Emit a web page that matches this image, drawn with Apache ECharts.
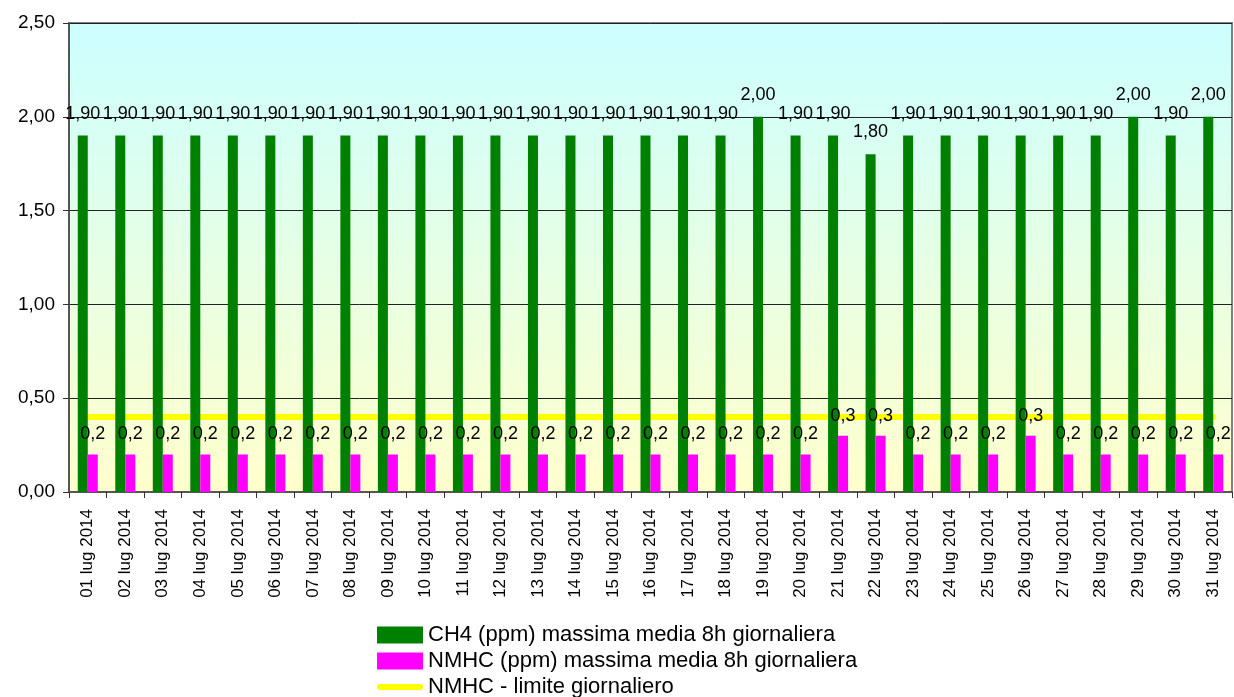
<!DOCTYPE html>
<html>
<head>
<meta charset="utf-8">
<script src="https://cdn.jsdelivr.net/npm/echarts@6/dist/echarts.min.js"></script>
<style>
  html, body { margin: 0; padding: 0; background: #fff; }
  #chart { width: 1234px; height: 697px; }
</style>
</head>
<body>
<div id="chart"></div>
<script>
// giorni di luglio 2014
const days = [
  '01 lug 2014', '02 lug 2014', '03 lug 2014', '04 lug 2014', '05 lug 2014',
  '06 lug 2014', '07 lug 2014', '08 lug 2014', '09 lug 2014', '10 lug 2014',
  '11 lug 2014', '12 lug 2014', '13 lug 2014', '14 lug 2014', '15 lug 2014',
  '16 lug 2014', '17 lug 2014', '18 lug 2014', '19 lug 2014', '20 lug 2014',
  '21 lug 2014', '22 lug 2014', '23 lug 2014', '24 lug 2014', '25 lug 2014',
  '26 lug 2014', '27 lug 2014', '28 lug 2014', '29 lug 2014', '30 lug 2014',
  '31 lug 2014'
]
const ch4 = [
  1.9, 1.9, 1.9, 1.9, 1.9, 1.9, 1.9, 1.9, 1.9, 1.9,
  1.9, 1.9, 1.9, 1.9, 1.9, 1.9, 1.9, 1.9, 2.0, 1.9,
  1.9, 1.8, 1.9, 1.9, 1.9, 1.9, 1.9, 1.9, 2.0, 1.9,
  2.0
]
const nmhc = [
  0.2, 0.2, 0.2, 0.2, 0.2, 0.2, 0.2, 0.2, 0.2, 0.2,
  0.2, 0.2, 0.2, 0.2, 0.2, 0.2, 0.2, 0.2, 0.2, 0.2,
  0.3, 0.3, 0.2, 0.2, 0.2, 0.3, 0.2, 0.2, 0.2, 0.2,
  0.2
]
const nmhcLimit = days.map(() => 0.4)

const names = [
  'CH4 (ppm) massima media 8h giornaliera',
  'NMHC (ppm) massima media 8h giornaliera',
  'NMHC - limite giornaliero'
]

const font = 'Arial, "Liberation Sans", sans-serif'
const chart = echarts.init(document.getElementById('chart'), null, { renderer: 'canvas' })

// una legenda per riga, così non va a capo
const legendRow = (item, top) => ({
  left: 377,
  top: top,
  padding: 0,
  itemWidth: 46,
  itemHeight: 17,
  textStyle: { fontSize: 22, lineHeight: 20, fontFamily: font, color: '#000' },
  data: [item]
})

const option = {
  animation: false,
  textStyle: { fontFamily: font, color: '#000' },
  grid: {
    left: 69,
    right: 2,
    top: 23,
    bottom: 205,
    show: true,
    borderColor: '#808080',
    borderWidth: 2,
    backgroundColor: new echarts.graphic.LinearGradient(0, 0, 0, 1, [
      { offset: 0, color: '#ccffff' },
      { offset: 1, color: '#ffffcc' }
    ])
  },
  legend: [
    legendRow({ name: names[0], icon: 'rect' }, 624),
    legendRow({ name: names[1], icon: 'rect' }, 650),
    legendRow({
      name: names[2],
      icon: 'path://M3,0 H43 A3,3 0 0 1 43,6 H3 A3,3 0 0 1 3,0 Z',
      symbolKeepAspect: true,
      itemStyle: { color: '#ffff00' }
    }, 676)
  ],
  xAxis: {
    type: 'category',
    data: days,
    boundaryGap: true,
    axisLine: { lineStyle: { color: '#555', width: 2 } },
    axisTick: { show: true, length: 6, lineStyle: { color: '#333' } },
    axisLabel: { rotate: 90, fontSize: 17, margin: 17, color: '#000', fontFamily: font, interval: 0 }
  },
  yAxis: {
    type: 'value',
    min: 0,
    max: 2.5,
    interval: 0.5,
    axisLine: { show: true, lineStyle: { color: '#555', width: 2 } },
    axisTick: { show: true, length: 6, lineStyle: { color: '#333' } },
    axisLabel: {
      fontSize: 19,
      margin: 14,
      color: '#000',
      fontFamily: font,
      formatter: v => v.toFixed(2).replace('.', ',')
    },
    splitLine: { lineStyle: { color: '#222', width: 1 } }
  },
  series: [
    {
      name: names[0],
      type: 'bar',
      data: ch4,
      barWidth: 10,
      barGap: '0%',
      itemStyle: { color: '#008000' },
      label: {
        show: true,
        position: 'top',
        distance: 13,
        fontSize: 18,
        color: '#000',
        fontFamily: font,
        formatter: p => p.value.toFixed(2).replace('.', ',')
      }
    },
    {
      name: names[1],
      type: 'bar',
      data: nmhc,
      barWidth: 10,
      barGap: '0%',
      itemStyle: { color: '#ff00ff' },
      label: {
        show: true,
        position: 'top',
        distance: 11,
        fontSize: 18,
        color: '#000',
        fontFamily: font,
        formatter: p => p.value.toFixed(1).replace('.', ',')
      }
    },
    {
      name: names[2],
      type: 'line',
      data: nmhcLimit,
      symbol: 'none',
      z: 1,
      lineStyle: { color: '#ffff00', width: 6, cap: 'round' },
      itemStyle: { color: '#ffff00' }
    }
  ]
}

chart.setOption(option)
</script>
</body>
</html>
